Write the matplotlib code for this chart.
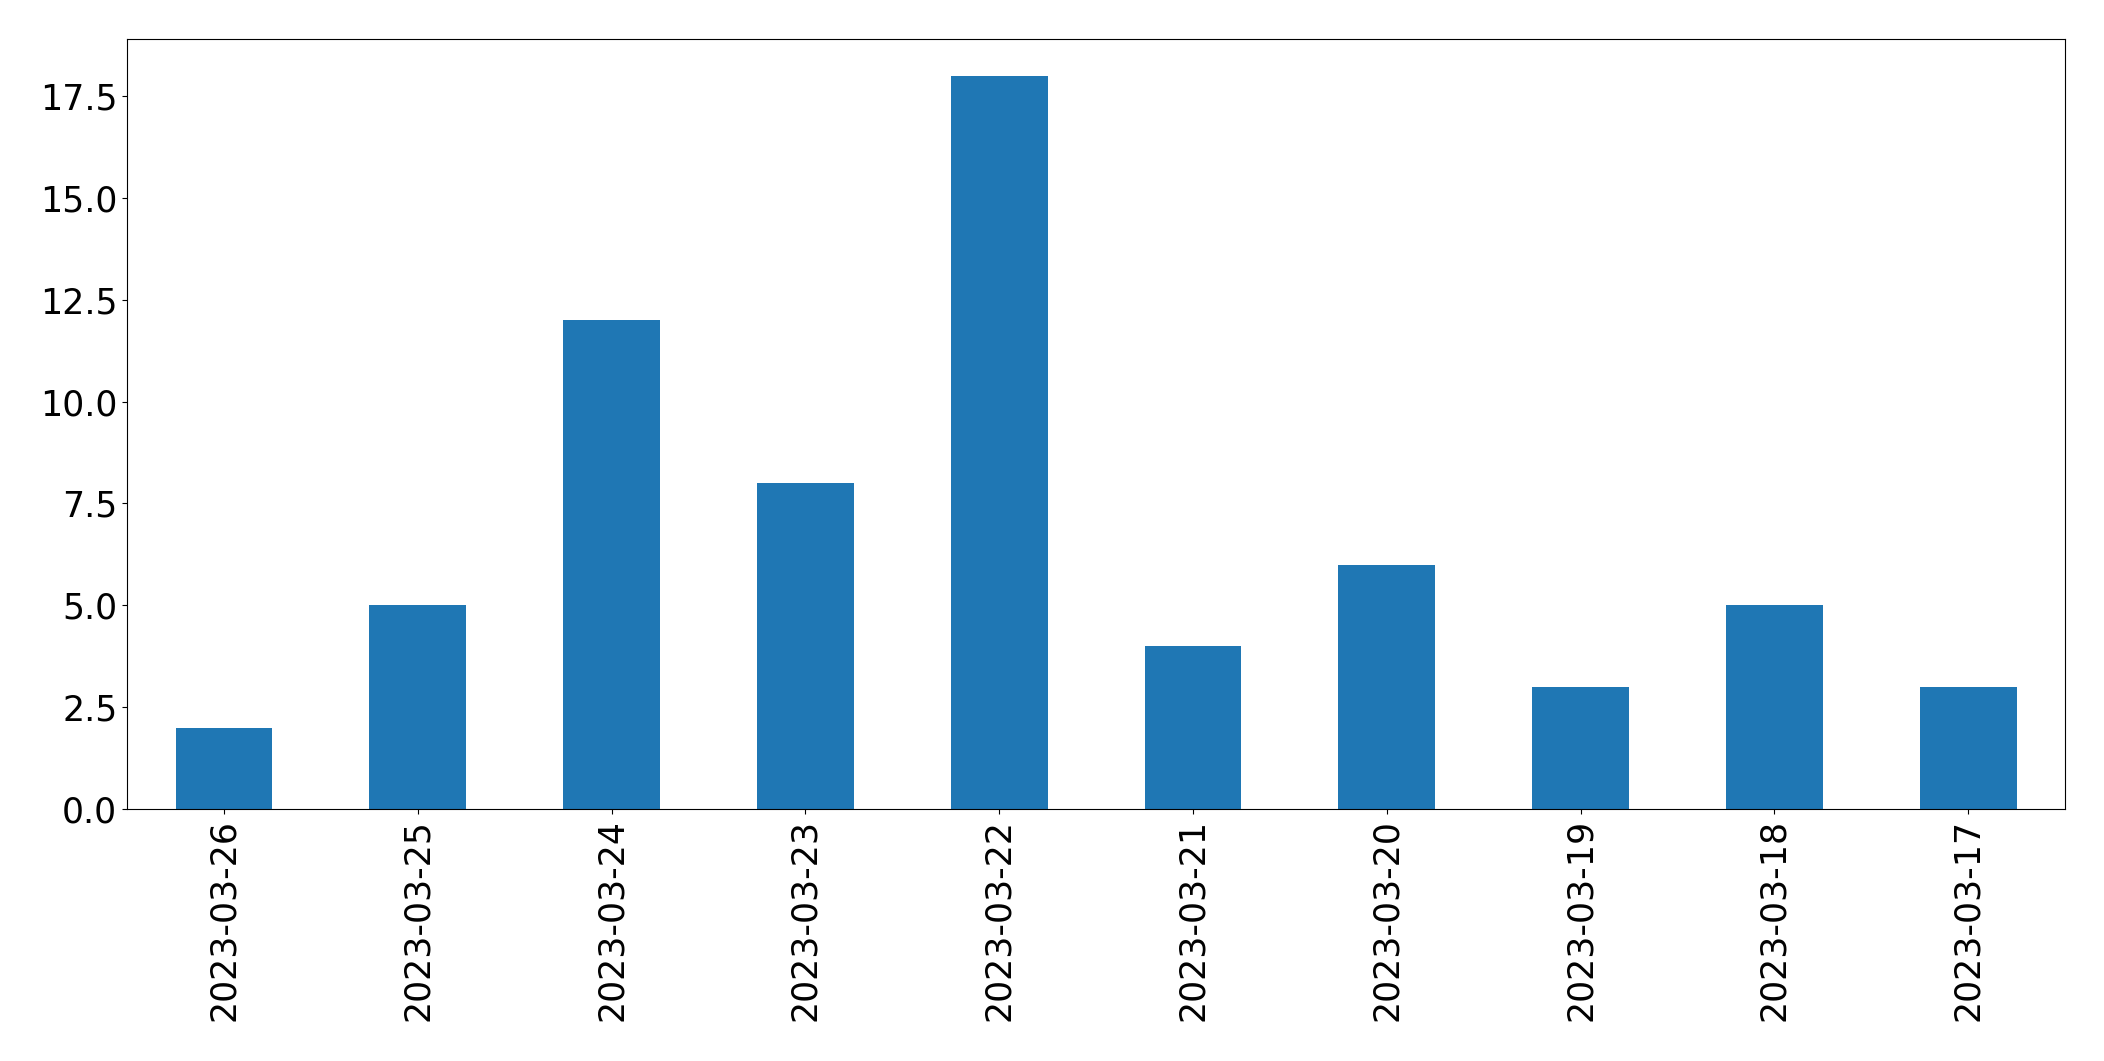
import matplotlib
matplotlib.use("Agg")
import matplotlib.pyplot as plt
import pandas as pd

dates = ["2023-03-26", "2023-03-25", "2023-03-24", "2023-03-23", "2023-03-22",
         "2023-03-21", "2023-03-20", "2023-03-19", "2023-03-18", "2023-03-17"]
counts = [2, 5, 12, 8, 18, 4, 6, 3, 5, 3]

series = pd.Series(counts, index=dates)

fig = plt.figure(figsize=(21.04, 10.61), dpi=100)
ax = fig.add_axes([0.0604, 0.2375, 0.9211, 0.7257])
series.plot(kind="bar", ax=ax, color="#1f77b4", fontsize=25)
ax.set_xlim(-0.5, len(dates) - 0.5)
ax.set_ylim(0, max(counts) * 1.05)

fig.savefig("out.png", dpi=100)
